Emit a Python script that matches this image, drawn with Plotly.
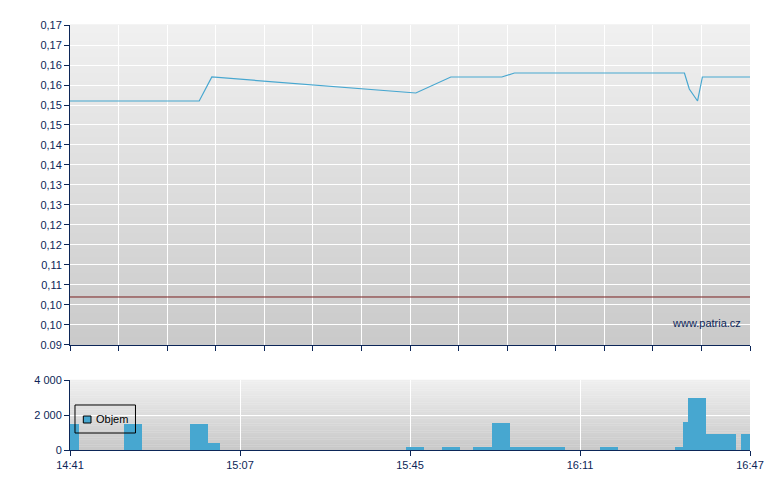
import plotly.graph_objects as go

# ---- data (x positions on a 0..140 session scale) ----
price_x = [0, 26.6, 29.2, 71.2, 78.4, 88.9, 91.5, 126.5, 127.5, 129.2, 130.2, 140]
price_y = [0.151, 0.151, 0.157, 0.153, 0.157, 0.157, 0.158, 0.158, 0.154, 0.151, 0.157, 0.157]
ref_price = 0.102

vol_x0 = [0.0, 11.1, 24.7, 28.4, 69.2, 76.6, 83.0, 86.9, 90.6, 94.3, 98.0, 109.1, 124.6, 126.2, 127.2, 130.9, 134.6, 138.2]
vol_x1 = [1.85, 14.8, 28.4, 30.9, 72.9, 80.3, 86.9, 90.6, 94.3, 98.0, 101.9, 112.8, 126.2, 127.2, 130.9, 134.6, 137.1, 140.0]
vol_y = [1500, 1500, 1500, 420, 180, 180, 180, 1550, 180, 180, 180, 180, 180, 1600, 3000, 920, 920, 920]

time_tickvals = [0, 35, 70, 105, 140]
time_ticktext = ["14:41", "15:07", "15:45", "16:11", "16:47"]

price_tickvals = [0.09 + 0.005 * i for i in range(17)]
price_ticktext = ["0.09", "0,10", "0,10", "0,11", "0,11", "0,12", "0,12", "0,13", "0,13",
                  "0,14", "0,14", "0,15", "0,15", "0,16", "0,16", "0,17", "0,17"]

vol_tickvals = [0, 2000, 4000]
vol_ticktext = ["0", "2 000", "4 000"]

legend_label = "Objem"
watermark = "www.patria.cz"

# ---- style ----
NAVY = "#0c2658"
BLUE = "#47a7d0"
FONT = "Liberation Sans, Arial, sans-serif"

fig = go.Figure()

fig.add_trace(go.Scatter(x=price_x, y=price_y, mode="lines",
                         line=dict(color=BLUE, width=1.2), showlegend=False,
                         xaxis="x", yaxis="y", hoverinfo="skip"))

vx = [(a + b) / 2 for a, b in zip(vol_x0, vol_x1)]
vw = [b - a for a, b in zip(vol_x0, vol_x1)]
fig.add_trace(go.Bar(x=vx, y=vol_y, width=vw, marker=dict(color=BLUE, line=dict(width=0)),
                     showlegend=False, xaxis="x2", yaxis="y2", hoverinfo="skip",
                     name=legend_label))

shapes = []
def gradient(xref, yref, top, bottom, n=40):
    out = []
    for i in range(n):
        t = (i + 0.5) / n
        c = [round(bottom[k] + (top[k] - bottom[k]) * t) for k in range(3)]
        out.append(dict(type="rect", xref=xref, yref=yref, x0=0, x1=1,
                        y0=i / n, y1=(i + 1) / n + 0.002, layer="below",
                        line=dict(width=0), fillcolor="rgb(%d,%d,%d)" % tuple(c)))
    return out

shapes += gradient("x domain", "y domain", (240, 240, 240), (202, 202, 202))
shapes += gradient("x2 domain", "y2 domain", (239, 239, 239), (200, 200, 200))
shapes.append(dict(type="line", xref="x domain", yref="y", x0=0, x1=1,
                   y0=ref_price, y1=ref_price, line=dict(color="#7a2020", width=1),
                   layer="above"))
# manual legend box
shapes.append(dict(type="rect", xref="paper", yref="paper", x0=0.00735, x1=0.0963,
                   y0=0.04, y1=0.1059, line=dict(color="black", width=1),
                   fillcolor="rgba(0,0,0,0)", layer="above"))
shapes.append(dict(type="rect", xref="paper", yref="paper", x0=0.0196, x1=0.0309,
                   y0=0.0635, y1=0.080, line=dict(color="black", width=1),
                   fillcolor=BLUE, layer="above"))

fig.update_layout(
    width=772, height=482,
    margin=dict(l=62, r=30, t=17, b=40),
    paper_bgcolor="white", plot_bgcolor="white",
    font=dict(family=FONT, size=11, color=NAVY),
    shapes=shapes,
    bargap=0,
    showlegend=False,
    xaxis=dict(domain=[0, 1], range=[0, 140], anchor="y",
               tickvals=[10 * i for i in range(15)], showticklabels=False,
               ticks="outside", ticklen=5, tickcolor=NAVY,
               showline=True, linecolor=NAVY, linewidth=1,
               showgrid=True, gridcolor="white", gridwidth=1.3, zeroline=False),
    yaxis=dict(domain=[0.2471, 1], range=[0.09, 0.17], anchor="x",
               tickvals=price_tickvals, ticktext=price_ticktext,
               ticks="outside", ticklen=5, tickcolor=NAVY,
               showline=True, linecolor=NAVY, linewidth=1,
               showgrid=True, gridcolor="white", gridwidth=1.3, zeroline=False),
    xaxis2=dict(domain=[0, 1], range=[0, 140], anchor="y2",
                tickvals=time_tickvals, ticktext=time_ticktext,
                ticks="outside", ticklen=5, tickcolor=NAVY,
                showline=True, linecolor=NAVY, linewidth=1,
                showgrid=True, gridcolor="white", gridwidth=1.3, zeroline=False),
    yaxis2=dict(domain=[0, 0.1647], range=[0, 4000], anchor="x2",
                tickvals=vol_tickvals, ticktext=vol_ticktext,
                ticks="outside", ticklen=5, tickcolor=NAVY,
                showline=True, linecolor=NAVY, linewidth=1,
                showgrid=True, gridcolor="white", gridwidth=1.3, zeroline=False),
    annotations=[
        dict(text=watermark, xref="x domain", yref="y domain",
             x=0.9897, y=0.069, xanchor="right", yanchor="middle",
             showarrow=False, font=dict(family=FONT, size=11, color=NAVY)),
        dict(text=legend_label, xref="paper", yref="paper",
             x=0.0355, y=0.0729, xanchor="left", yanchor="middle",
             showarrow=False, font=dict(family=FONT, size=11, color="black")),
    ],
)

fig.write_html("out.html")
